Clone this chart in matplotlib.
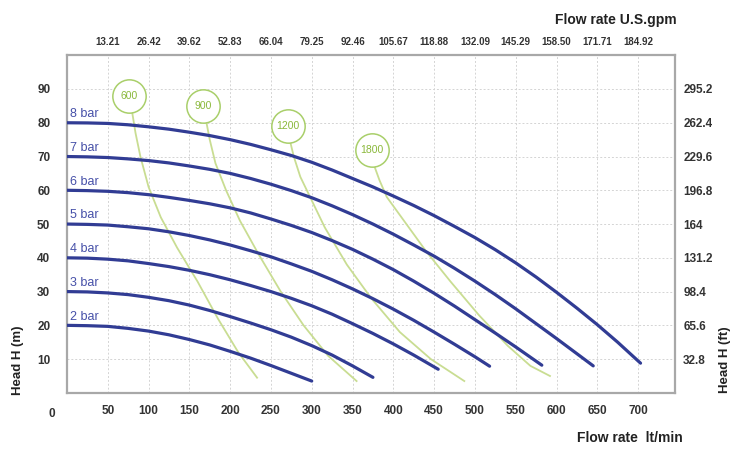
import matplotlib
matplotlib.use('Agg')
import matplotlib.pyplot as plt
from matplotlib.transforms import offset_copy

plt.rcParams['font.family'] = ['Liberation Sans', 'DejaVu Sans']

# 流量刻度 (lt/min) 及对应的 U.S.gpm 标签
flow_ticks = [50, 100, 150, 200, 250, 300, 350, 400, 450, 500, 550, 600, 650, 700]
gpm_labels = ['13.21', '26.42', '39.62', '52.83', '66.04', '79.25', '92.46', '105.67',
              '118.88', '132.09', '145.29', '158.50', '171.71', '184.92']
head_ticks = [10, 20, 30, 40, 50, 60, 70, 80, 90]
ft_labels = ['32.8', '65.6', '98.4', '131.2', '164', '196.8', '229.6', '262.4', '295.2']

# 各压力下的扬程曲线 (lt/min, m)
bar_2_x = [0, 25, 50, 75, 100, 125, 150, 175, 200, 225, 250, 275, 300]
bar_2_y = [20, 19.9, 19.7, 19.1, 18.3, 17.2, 15.8, 14.2, 12.3, 10.3, 8.1, 5.8, 3.5]
bar_3_x = [0, 25, 50, 75, 100, 125, 150, 175, 200, 225, 250, 275, 300, 325, 350, 375]
bar_3_y = [30, 29.9, 29.6, 29.1, 28.3, 27.3, 26, 24.4, 22.6, 20.7, 18.7, 16.5, 14, 11.2, 8, 4.6]
bar_4_x = [0, 25, 50, 75, 100, 125, 150, 175, 200, 225, 250, 275, 300, 325, 350, 375,
           400, 425, 455]
bar_4_y = [40, 39.9, 39.6, 39.1, 38.3, 37.4, 36.3, 35, 33.5, 31.8, 30, 28, 25.8, 23.3,
           20.5, 17.6, 14.5, 11.2, 7.0]
bar_5_x = [0, 25, 50, 75, 100, 125, 150, 175, 200, 225, 250, 275, 300, 325, 350, 375,
           400, 425, 450, 475, 500, 518]
bar_5_y = [50, 49.9, 49.7, 49.2, 48.6, 47.7, 46.6, 45.3, 43.8, 42.1, 40.3, 38.2, 36,
           33.5, 30.8, 27.9, 24.8, 21.5, 18, 14.4, 10.7, 7.9]
bar_6_x = [0, 25, 50, 75, 100, 125, 150, 175, 200, 225, 250, 275, 300, 325, 350, 375,
           400, 425, 450, 475, 500, 525, 550, 582]
bar_6_y = [60, 59.9, 59.7, 59.3, 58.7, 57.9, 57, 56, 54.8, 53.3, 51.5, 49.6, 47.5, 45.1,
           42.5, 39.6, 36.5, 33.1, 29.5, 25.7, 21.7, 17.7, 13.6, 8.2]
bar_7_x = [0, 25, 50, 75, 100, 125, 150, 175, 200, 225, 250, 275, 300, 325, 350, 375,
           400, 425, 450, 475, 500, 525, 550, 575, 600, 625, 645]
bar_7_y = [70, 69.9, 69.7, 69.3, 68.8, 68.1, 67.2, 66.2, 65, 63.5, 61.8, 59.9, 57.8,
           55.4, 52.8, 50, 47, 43.8, 40.5, 36.9, 33.1, 29.1, 24.9, 20.5, 16.1, 11.6, 8]
bar_8_x = [0, 25, 50, 75, 100, 125, 150, 175, 200, 225, 250, 275, 300, 325, 350, 375,
           400, 425, 450, 475, 500, 525, 550, 575, 600, 625, 650, 675, 703]
bar_8_y = [80, 79.95, 79.8, 79.4, 78.8, 78.1, 77.2, 76.2, 75, 73.6, 72, 70.3, 68.3, 66,
           63.5, 61, 58.3, 55.5, 52.5, 49.3, 46, 42.4, 38.5, 34.3, 29.8, 25.1, 20.2,
           15, 8.8]

bar_curves = [(bar_2_x, bar_2_y, '2 bar'), (bar_3_x, bar_3_y, '3 bar'),
              (bar_4_x, bar_4_y, '4 bar'), (bar_5_x, bar_5_y, '5 bar'),
              (bar_6_x, bar_6_y, '6 bar'), (bar_7_x, bar_7_y, '7 bar'),
              (bar_8_x, bar_8_y, '8 bar')]

# 空气消耗线 (Nl/min)
air_600_x = [80, 84, 90, 100, 115, 135, 160, 185, 210, 233]
air_600_y = [83, 77, 70, 61, 52, 43, 33, 22, 12, 4.5]
air_900_x = [171, 175, 182, 195, 212, 235, 262, 290, 320, 355]
air_900_y = [80, 75, 68, 60, 51, 41, 30, 20, 11, 3.5]
air_1200_x = [274, 278, 286, 298, 316, 343, 373, 408, 446, 487]
air_1200_y = [74, 70, 64, 58, 49, 38, 28, 18, 10, 3.5]
air_1800_x = [377, 383, 392, 410, 440, 470, 505, 540, 568, 592]
air_1800_y = [67, 63, 58, 52, 42, 33, 23, 14, 8, 5]

air_lines = [(air_600_x, air_600_y, '600'), (air_900_x, air_900_y, '900'),
             (air_1200_x, air_1200_y, '1200'), (air_1800_x, air_1800_y, '1800')]

blue = '#313c94'
green_line = '#c9dd92'
green_edge = '#a9cf6a'
green_text = '#8ab83a'
tick_color = '#333333'

fig = plt.figure(figsize=(7.44, 4.49), dpi=100)
ax = fig.add_axes([0.090, 0.125, 0.817, 0.752])

ax.set_xlim(0, 745)
ax.set_ylim(0, 100)

# 网格
for v in flow_ticks:
    ax.axvline(v, color='#d4d4d4', lw=0.7, ls=(0, (2, 2)), zorder=0)
for h in head_ticks:
    ax.axhline(h, color='#d4d4d4', lw=0.7, ls=(0, (2, 2)), zorder=0)

# 圆圈标签放在线的起点上方
circle_tr = offset_copy(ax.transData, fig=fig, x=-3, y=17, units='dots')
for x, y, name in air_lines:
    ax.plot(x, y, color=green_line, lw=1.3, zorder=2)
    ax.plot(x[0], y[0], 'o', ms=24, mfc='white', mec=green_edge, mew=1.1,
            zorder=3, transform=circle_tr)
    ax.text(x[0], y[0], name, transform=circle_tr, ha='center', va='center',
            fontsize=7.5, color=green_text, zorder=5)

for x, y, name in bar_curves:
    ax.plot(x, y, color=blue, lw=2.3, solid_capstyle='round', zorder=4)
    ax.annotate(name, (x[0], y[0]), xytext=(2, 2), textcoords='offset points',
                ha='left', va='bottom', fontsize=9, color='#4650a8')

for s in ax.spines.values():
    s.set_color('#a8a8a8')
    s.set_linewidth(1.6)

ax.set_xticks(flow_ticks)
ax.set_xticklabels([str(v) for v in flow_ticks])
ax.set_yticks(head_ticks)
ax.set_yticklabels([str(v) for v in head_ticks])
ax.tick_params(axis='x', length=0, pad=9, labelsize=8.5, labelcolor=tick_color)
ax.tick_params(axis='y', length=0, pad=12, labelsize=8.5, labelcolor=tick_color)
for lab in ax.get_xticklabels() + ax.get_yticklabels():
    lab.set_fontweight('bold')
ax.text(-0.025, -0.045, '0', transform=ax.transAxes, ha='center', va='top',
        fontsize=8.5, fontweight='bold', color=tick_color)

ax_top = ax.twiny()
ax_top.set_xlim(ax.get_xlim())
ax_top.set_xticks(flow_ticks)
ax_top.set_xticklabels(gpm_labels)
ax_top.tick_params(axis='x', length=0, pad=6, labelsize=7, labelcolor=tick_color)
for lab in ax_top.get_xticklabels():
    lab.set_fontweight('bold')

ax_right = ax.twinx()
ax_right.set_ylim(ax.get_ylim())
ax_right.set_yticks(head_ticks)
ax_right.set_yticklabels(ft_labels)
ax_right.tick_params(axis='y', length=0, pad=6, labelsize=8.5, labelcolor=tick_color)
for lab in ax_right.get_yticklabels():
    lab.set_fontweight('bold')
for a in (ax_top, ax_right):
    for s in a.spines.values():
        s.set_visible(False)

fig.text(0.910, 0.955, 'Flow rate U.S.gpm', ha='right', va='center',
         fontsize=10, fontweight='bold', color='#222222')
fig.text(0.918, 0.025, 'Flow rate  lt/min', ha='right', va='center',
         fontsize=10, fontweight='bold', color='#222222')
fig.text(0.024, 0.198, 'Head H (m)', rotation=90, ha='center', va='center',
         fontsize=9.5, fontweight='bold', color='#222222')
fig.text(0.975, 0.200, 'Head H (ft)', rotation=90, ha='center', va='center',
         fontsize=9.5, fontweight='bold', color='#222222')

plt.savefig('out.png', dpi=100)
